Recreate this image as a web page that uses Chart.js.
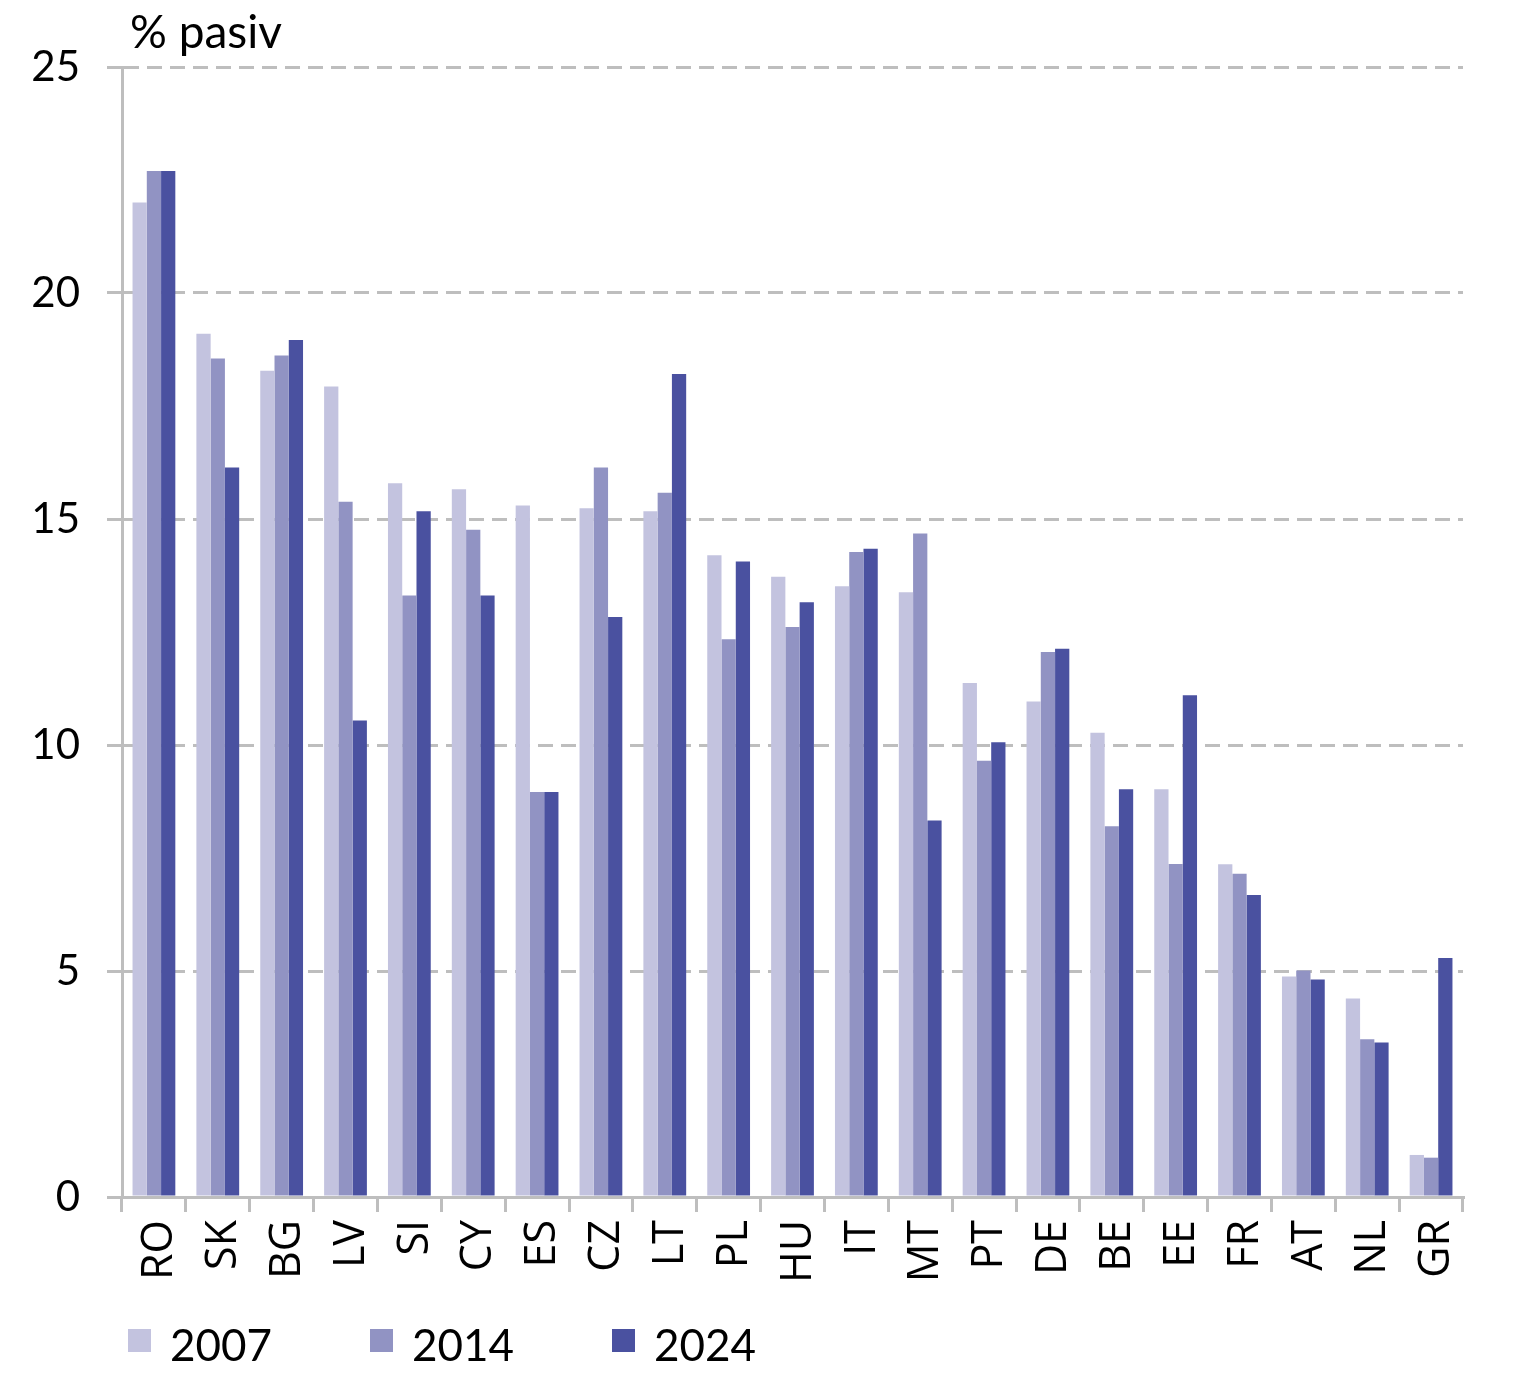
<!DOCTYPE html>
<html lang="sk">
<head>
    <meta charset="UTF-8">
    <title>% pasiv</title>
    <script src="https://cdn.jsdelivr.net/npm/chart.js"></script>
    <style>
        body { margin:0; background:#fff; }
        #wrap { width:1522px; height:1380px; position:relative; }
    </style>
</head>
<body>
    <div id="wrap">
        <canvas id="myChart"></canvas>
    </div>

    <script>
        // krajiny
        const categories = ['RO','SK','BG','LV','SI','CY','ES','CZ','LT','PL','HU','IT','MT','PT','DE','BE','EE','FR','AT','NL','GR'];
        // roky (legenda)
        const seriesLabels = ['2007','2014','2024'];
        // hodnoty v % pasiv
        const v2007 = [22.0, 19.1, 18.28, 17.93, 15.79, 15.66, 15.3, 15.24, 15.17, 14.2, 13.72, 13.51, 13.38, 11.37, 10.96, 10.27, 9.02, 7.36, 4.88, 4.39, 0.93];
        const v2014 = [22.7, 18.55, 18.62, 15.38, 13.31, 14.76, 8.96, 16.14, 15.58, 12.34, 12.61, 14.27, 14.68, 9.65, 12.06, 8.2, 7.37, 7.15, 5.01, 3.49, 0.87];
        const v2024 = [22.7, 16.14, 18.96, 10.54, 15.17, 13.31, 8.96, 12.83, 18.21, 14.06, 13.16, 14.34, 8.33, 10.06, 12.13, 9.02, 11.1, 6.68, 4.81, 3.42, 5.29];
        // os y
        const yTicks = [0, 5, 10, 15, 20, 25];
        const unitLabel = '% pasiv';

        const colors = ['#C3C3DF', '#9193C3', '#4A51A0'];
        const gridGray = '#BEBEBE';

        // nazov osi + legenda kreslene rucne
        const extras = {
            id: 'extras',
            afterDraw(chart) {
                const ctx = chart.ctx;
                ctx.save();
                ctx.fillStyle = '#000';
                ctx.textAlign = 'left';
                ctx.textBaseline = 'alphabetic';
                ctx.font = '46px Lato';
                ctx.fillText(unitLabel, chart.chartArea.left + 8, 48);

                ctx.font = '44px Lato';
                ctx.textBaseline = 'middle';
                chart.data.datasets.forEach((ds, i) => {
                    const x = 128 + i * 242;
                    ctx.fillStyle = ds.backgroundColor;
                    ctx.fillRect(x, 1329, 23, 23);
                    ctx.fillStyle = '#000';
                    ctx.fillText(ds.label, x + 42, 1347);
                });
                ctx.restore();
            }
        };

        const drawChart = () => {
            const data = {
                labels: categories,
                datasets: [v2007, v2014, v2024].map((vals, i) => ({
                    label: seriesLabels[i],
                    data: vals,
                    backgroundColor: colors[i],
                    borderWidth: 0,
                    categoryPercentage: 0.67,
                    barPercentage: 1.0
                }))
            };

            const options = {
                responsive: true,
                maintainAspectRatio: false,
                animation: false,
                layout: { padding: { left: 26, right: 59, top: 67, bottom: 83 } },
                plugins: {
                    legend: { display: false },
                    tooltip: { enabled: false }
                },
                scales: {
                    x: {
                        grid: {
                            offset: true,
                            drawOnChartArea: false,
                            drawTicks: true,
                            tickLength: 15,
                            color: gridGray,
                            lineWidth: 3
                        },
                        border: { color: gridGray, width: 3 },
                        ticks: {
                            autoSkip: false,
                            minRotation: 90,
                            maxRotation: 90,
                            padding: 8,
                            labelOffset: 6,
                            color: '#000',
                            font: { family: '"Open Sans"', size: 43 }
                        },
                        afterFit: (scale) => { scale.height = 100; }
                    },
                    y: {
                        min: 0,
                        max: 25,
                        afterBuildTicks: (scale) => { scale.ticks = yTicks.map(v => ({ value: v })); },
                        grid: {
                            color: gridGray,
                            lineWidth: 3,
                            tickLength: 15,
                            tickBorderDash: []
                        },
                        border: { display: true, color: gridGray, width: 3, dash: [15, 8] },
                        ticks: {
                            padding: 27,
                            color: '#000',
                            font: { family: 'Lato', size: 42 }
                        },
                        afterFit: (scale) => { scale.width = 96; }
                    }
                }
            };

            const ctx = document.querySelector('#myChart').getContext('2d');
            new Chart(ctx, { type: 'bar', data: data, options: options, plugins: [extras] });
        };

        Promise.all([
            document.fonts.load('44px Lato'),
            document.fonts.load('43px "Open Sans"')
        ]).then(drawChart, drawChart);
    </script>
</body>
</html>
